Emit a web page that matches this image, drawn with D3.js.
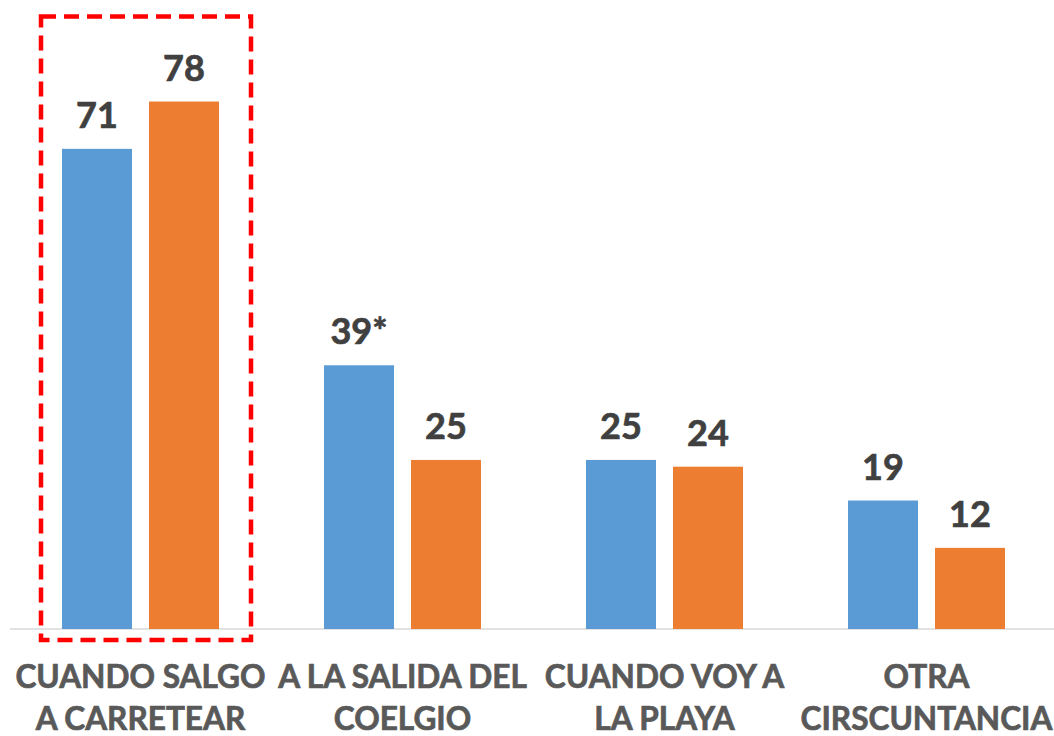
<!DOCTYPE html>
<html>
<head>
<meta charset="utf-8">
<script src="https://cdn.jsdelivr.net/npm/d3@7"></script>
<style>
  html, body { margin: 0; padding: 0; background: #fff; }
  svg { display: block; }
  text { font-family: Lato, "Open Sans", sans-serif; font-weight: bold; }
</style>
</head>
<body>
<svg id="chart"></svg>
<script>
// chart data
const categories = [
    ["CUANDO SALGO", "A CARRETEAR"],
    ["A LA SALIDA DEL", "COELGIO"],
    ["CUANDO VOY A", "LA PLAYA"],
    ["OTRA", "CIRSCUNTANCIA"]
];
const seriesNames = ["serie1", "serie2"];
const serie1 = [71, 39, 25, 19];
const serie2 = [78, 25, 24, 12];
const serie1Labels = ["71", "39*", "25", "19"];
const serie2Labels = ["78", "25", "24", "12"];
const colors = ["#5B9BD5", "#ED7D31"];

const width = 1054, height = 736;
const svg = d3.select("#chart").attr("width", width).attr("height", height);

const catKeys = categories.map((c, i) => i);

const x0 = d3.scaleBand()
    .domain(catKeys)
    .range([9.5, 1057.5])
    .paddingInner(0)
    .paddingOuter(0);

// bars inside each category
const x1 = d3.scaleBand()
    .domain(seriesNames)
    .range([52.5, 209.5])
    .paddingInner(0.1954)
    .paddingOuter(0);

const y = d3.scaleLinear()
    .domain([0, 80])
    .range([629, 88]);

const rows = catKeys.map(i => ({
    cat: i,
    values: [
        { key: "serie1", value: serie1[i], label: serie1Labels[i] },
        { key: "serie2", value: serie2[i], label: serie2Labels[i] }
    ]
}));

// axis line
svg.append("line")
    .attr("x1", 10).attr("x2", width)
    .attr("y1", y(0)).attr("y2", y(0))
    .attr("stroke", "#d9d9d9")
    .attr("stroke-width", 1.5);

const groups = svg.selectAll(".grp")
    .data(rows)
    .enter()
    .append("g")
    .attr("transform", d => `translate(${x0(d.cat)},0)`);

groups.selectAll("rect")
    .data(d => d.values)
    .enter()
    .append("rect")
    .attr("x", d => x1(d.key))
    .attr("y", d => y(d.value))
    .attr("width", x1.bandwidth())
    .attr("height", d => y(0) - y(d.value))
    .attr("fill", (d, i) => colors[i]);

groups.selectAll(".val")
    .data(d => d.values)
    .enter()
    .append("text")
    .attr("x", d => x1(d.key) + x1.bandwidth() / 2)
    .attr("y", d => y(d.value) - 21)
    .attr("text-anchor", "middle")
    .style("font-size", "36px")
    .style("fill", "#404040")
    .style("stroke", "#404040")
    .style("stroke-width", 0.7)
    .text(d => d.label);

// category labels (two lines)
const catLabels = svg.selectAll(".cat")
    .data(categories)
    .enter()
    .append("text")
    .attr("text-anchor", "middle")
    .style("font-size", "31.6px")
    .style("fill", "#595959")
    .style("stroke", "#595959")
    .style("stroke-width", 0.7);

catLabels.selectAll("tspan")
    .data((d, i) => d.map(line => ({ line, i })))
    .enter()
    .append("tspan")
    .attr("x", d => x0(d.i) + x0.bandwidth() / 2)
    .attr("y", (d, j) => 688 + j * 42)
    .text(d => d.line);

// red dashed highlight around the first category
svg.append("rect")
    .attr("x", x0(0) + 31.5)
    .attr("y", 16.5)
    .attr("width", 210)
    .attr("height", 623.5)
    .attr("fill", "none")
    .attr("stroke", "#ff0000")
    .attr("stroke-width", 4.5)
    .attr("stroke-dasharray", "15,8");
</script>
</body>
</html>
